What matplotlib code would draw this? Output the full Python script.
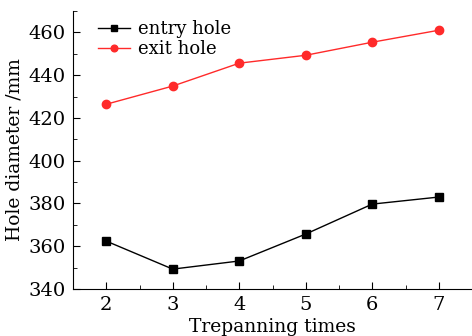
import numpy as np
import matplotlib
matplotlib.use('Agg')
import matplotlib.pyplot as plt
from matplotlib.ticker import MultipleLocator

times = [2, 3, 4, 5, 6, 7]
entry_hole = [362.4, 349.3, 353.1, 365.7, 379.7, 383.0]
exit_hole = [426.4, 434.9, 445.6, 449.3, 455.4, 461.0]

plt.rcParams['font.family'] = ['DejaVu Serif']
plt.rcParams['font.size'] = 13

fig = plt.figure(figsize=(4.72, 3.36), dpi=100)
ax = fig.add_axes([73/472, 1-289/336, (472-73)/472, (289-11)/336])

ax.plot(times, entry_hole, color='black', marker='s', markersize=6, lw=1, label='entry hole')
ax.plot(times, exit_hole, color='#ff2a2a', marker='o', markersize=6, lw=1, label='exit hole')

ax.set_xlim(1.5, 7.5)
ax.set_ylim(340, 470)
ax.set_xticks(times)
ax.set_yticks(range(340, 461, 20))
ax.xaxis.set_minor_locator(MultipleLocator(0.5))
ax.yaxis.set_minor_locator(MultipleLocator(10))
ax.tick_params(which='both', direction='in', labelsize=14)
ax.tick_params(which='major', length=5, pad=5)
ax.tick_params(which='minor', length=3)
for s in ['top', 'right']:
    ax.spines[s].set_visible(False)

ax.set_xlabel('Trepanning times', fontsize=13.5, labelpad=3)
ax.set_ylabel('Hole diameter /mm', fontsize=13.5, labelpad=4)
ax.legend(loc='upper left', frameon=False, fontsize=13, handlelength=1.8,
          handletextpad=0.4, markerscale=0.8,
          borderaxespad=0.1, labelspacing=0.1, bbox_to_anchor=(0.04, 1.0))

fig.savefig('out.png')
